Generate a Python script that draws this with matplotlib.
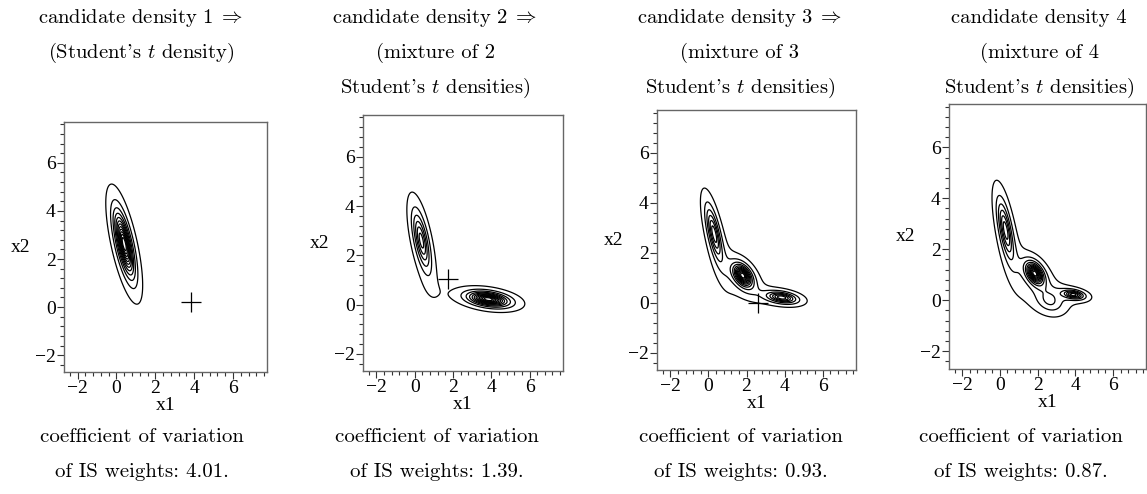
import numpy as np
import matplotlib
matplotlib.use("Agg")
import matplotlib.pyplot as plt

plt.rcParams['mathtext.fontset'] = 'cm'

# text around each panel
top_lines = [
    ["candidate density 1$\\;\\Rightarrow$", "(Student's $t$ density)"],
    ["candidate density 2$\\;\\Rightarrow$", "(mixture of 2", "Student's $t$ densities)"],
    ["candidate density 3$\\;\\Rightarrow$", "(mixture of 3", "Student's $t$ densities)"],
    ["candidate density 4", "(mixture of 4", "Student's $t$ densities)"],
]
cv_values = ["4.01", "1.39", "0.93", "0.87"]

# mixture components per panel: means, scale matrices, weights (df = 1)
means = [
    [(0.40, 2.62)],
    [(0.35, 2.60), (3.85, 0.22)],
    [(0.30, 2.75), (1.80, 1.08), (3.85, 0.20)],
    [(0.30, 2.75), (1.85, 1.05), (3.90, 0.22), (2.65, -0.05)],
]
scales = [
    [[[0.199, -0.358], [-0.358, 1.378]]],
    [[[0.23, -0.38], [-0.38, 1.55]], [[0.80, -0.08], [-0.08, 0.065]]],
    [[[0.20, -0.36], [-0.36, 1.30]], [[0.20, -0.08], [-0.08, 0.16]], [[0.60, -0.06], [-0.06, 0.05]]],
    [[[0.20, -0.36], [-0.36, 1.50]], [[0.18, -0.07], [-0.07, 0.15]], [[0.30, -0.03], [-0.03, 0.03]],
     [[0.80, -0.12], [-0.12, 0.30]]],
]
weights = [
    [1.0],
    [0.52, 0.48],
    [0.42, 0.36, 0.22],
    [0.42, 0.29, 0.10, 0.20],
]
# "+" marks (panel 4 has none)
plus_x = [3.85, 1.75, 2.60, None]
plus_y = [0.20, 1.05, 0.00, None]

n_levels = 12

# axes boxes in pixels (left, top, right, bottom)
boxes = [(64, 122, 267, 372), (363, 115, 563, 371), (657, 110, 856, 370), (949, 104, 1146, 369)]
title_x = [141, 435, 740, 1039]
bottom_x = [142, 437, 741, 1021]

W, H = 1147, 494
fig = plt.figure(figsize=(W / 100, H / 100), dpi=100)

xs = np.linspace(-2.7, 7.75, 500)
ys = np.linspace(-2.7, 7.7, 500)
X, Y = np.meshgrid(xs, ys)


def t_density(X, Y, mu, S, nu=1.0):
    S = np.array(S)
    Si = np.linalg.inv(S)
    dx = X - mu[0]
    dy = Y - mu[1]
    q = Si[0, 0] * dx * dx + 2 * Si[0, 1] * dx * dy + Si[1, 1] * dy * dy
    return (1 + q / nu) ** (-(nu + 2) / 2) / (2 * np.pi * np.sqrt(np.linalg.det(S)))


for i in range(4):
    l, t, r, b = boxes[i]
    ax = fig.add_axes([l / W, 1 - b / H, (r - l) / W, (b - t) / H])
    Z = np.zeros_like(X)
    for mu, S, w in zip(means[i], scales[i], weights[i]):
        Z += w * t_density(X, Y, mu, S)
    zmax = Z.max()
    levels = zmax * np.arange(1, n_levels + 1) / (n_levels + 1)
    ax.contour(X, Y, Z, levels=levels, colors='black', linewidths=0.9)
    if plus_x[i] is not None:
        ax.plot(plus_x[i], plus_y[i], marker='+', color='black', markersize=14, mew=0.9)
    ax.set_xlim(-2.7, 7.75)
    ax.set_ylim(-2.7, 7.7)
    ax.set_xticks([-2, 0, 2, 4, 6])
    ax.set_yticks([-2, 0, 2, 4, 6])
    ax.set_xticks(np.arange(-2.4, 7.7, 0.4), minor=True)
    ax.set_yticks(np.arange(-2.4, 7.7, 0.4), minor=True)
    ax.tick_params(which='major', length=5, width=0.8, color='#333333', labelsize=14, pad=1)
    ax.tick_params(which='minor', length=2.8, width=0.8, color='#333333')
    for lab in ax.get_xticklabels() + ax.get_yticklabels():
        lab.set_fontfamily('Liberation Serif')
    for sp in ax.spines.values():
        sp.set_color('#666666')
        sp.set_linewidth(1.0)
    ax.set_xlabel('x1', fontfamily='Liberation Serif', fontsize=14, labelpad=0)
    ax.set_ylabel('x2', fontfamily='Liberation Serif', fontsize=14, rotation=0, labelpad=10, va='center')

    for k, line in enumerate(top_lines[i]):
        fig.text(title_x[i] / W, 1 - (18 + 35 * k) / H, line, ha='center', va='center',
                 fontfamily='cmr10', fontsize=14.8)
    fig.text(bottom_x[i] / W, 1 - 437 / H, "coefficient of variation", ha='center', va='center',
             fontfamily='cmr10', fontsize=15)
    fig.text(bottom_x[i] / W, 1 - 472 / H, "of IS weights: " + cv_values[i] + ".", ha='center', va='center',
             fontfamily='cmr10', fontsize=15)

fig.savefig("out.png", dpi=100)
